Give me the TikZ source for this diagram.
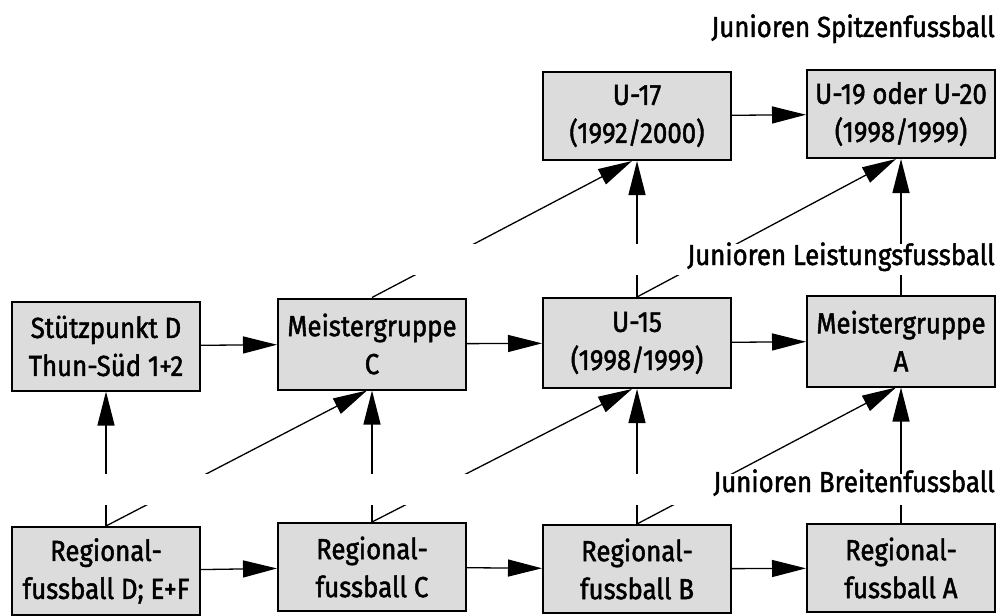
\documentclass[tikz,border=0pt]{standalone}
\usepackage{fontspec}
\setmainfont[FakeStretch=0.89, FakeBold=1.6]{Fira Sans}
\usetikzlibrary{arrows.meta}
\definecolor{boxgray}{HTML}{DCDCDC}
\tikzset{
  box/.style={draw=black, line width=2pt, fill=boxgray, minimum width=188pt,
    inner sep=0pt, align=center, font=\fontsize{29}{38}\selectfont},
  conn/.style={line width=1.3pt, -{Triangle[length=34pt,width=17pt]}},
  band/.style={font=\fontsize{29}{34}\selectfont, inner sep=0pt},
}
\begin{document}
\begin{tikzpicture}[x=1pt,y=-1pt]
\useasboundingbox (0,0) rectangle (1000,615);
% boxes
\node[box, minimum height=88pt] (u17) at (637,116) {U-17\\(1992/2000)};
\node[box, minimum height=88pt] (u19) at (901,114) {U-19 oder U-20\\(1998/1999)};
\node[box, minimum height=89pt] (sd)  at (106,346) {Stützpunkt D\\Thun-Süd 1+2};
\node[box, minimum height=91pt] (mc)  at (372,344) {Meistergruppe\\C};
\node[box, minimum height=90pt] (u15) at (637,343) {U-15\\(1998/1999)};
\node[box, minimum height=91pt] (ma)  at (901,341) {Meistergruppe\\A};
\node[box, minimum height=88pt] (rd)  at (106,571) {Regional-\\fussball D; E+F};
\node[box, minimum height=88pt] (rc)  at (372,567) {Regional-\\fussball C};
\node[box, minimum height=88pt] (rb)  at (637,569) {Regional-\\fussball B};
\node[box, minimum height=88pt] (ra)  at (901,568) {Regional-\\fussball A};
% horizontal arrows
\draw[conn] (u17) -- (u19);
\draw[conn] (sd) -- (mc);
\draw[conn] (mc) -- (u15);
\draw[conn] (u15) -- (ma);
\draw[conn] (rd) -- (rc);
\draw[conn] (rc) -- (rb);
\draw[conn] (rb) -- (ra);
% vertical arrows
\draw[conn] (rd.north) -- (sd.south);
\draw[conn] (rc.north) -- (mc.south);
\draw[conn] (rb.north) -- (u15.south);
\draw[conn] (ra.north) -- (ma.south);
\draw[conn] (u15.north) -- (u17.south);
\draw[conn] (ma.north) -- (u19.south);
% diagonal arrows
\draw[conn] (rd.north) -- ([xshift=-5pt]mc.south);
\draw[conn] (rc.north) -- ([xshift=-5pt]u15.south);
\draw[conn] (rb.north) -- ([xshift=-5pt]ma.south);
\draw[conn] (mc.north) -- ([xshift=-5pt]u17.south);
\draw[conn] (u15.north) -- ([xshift=-5pt]u19.south);
% white bands interrupting the connectors
\fill[white] (0,244) rectangle (1000,275);
\fill[white] (0,474) rectangle (1000,505);
% level labels
\node[band, anchor=base east] (lsp) at (995,37) {Junioren Spitzenfussball};
\node[band, anchor=base east] (lle) at (995,265) {Junioren Leistungsfussball};
\node[band, anchor=base east] (lbr) at (995,492) {Junioren Breitenfussball};
\end{tikzpicture}
\end{document}
